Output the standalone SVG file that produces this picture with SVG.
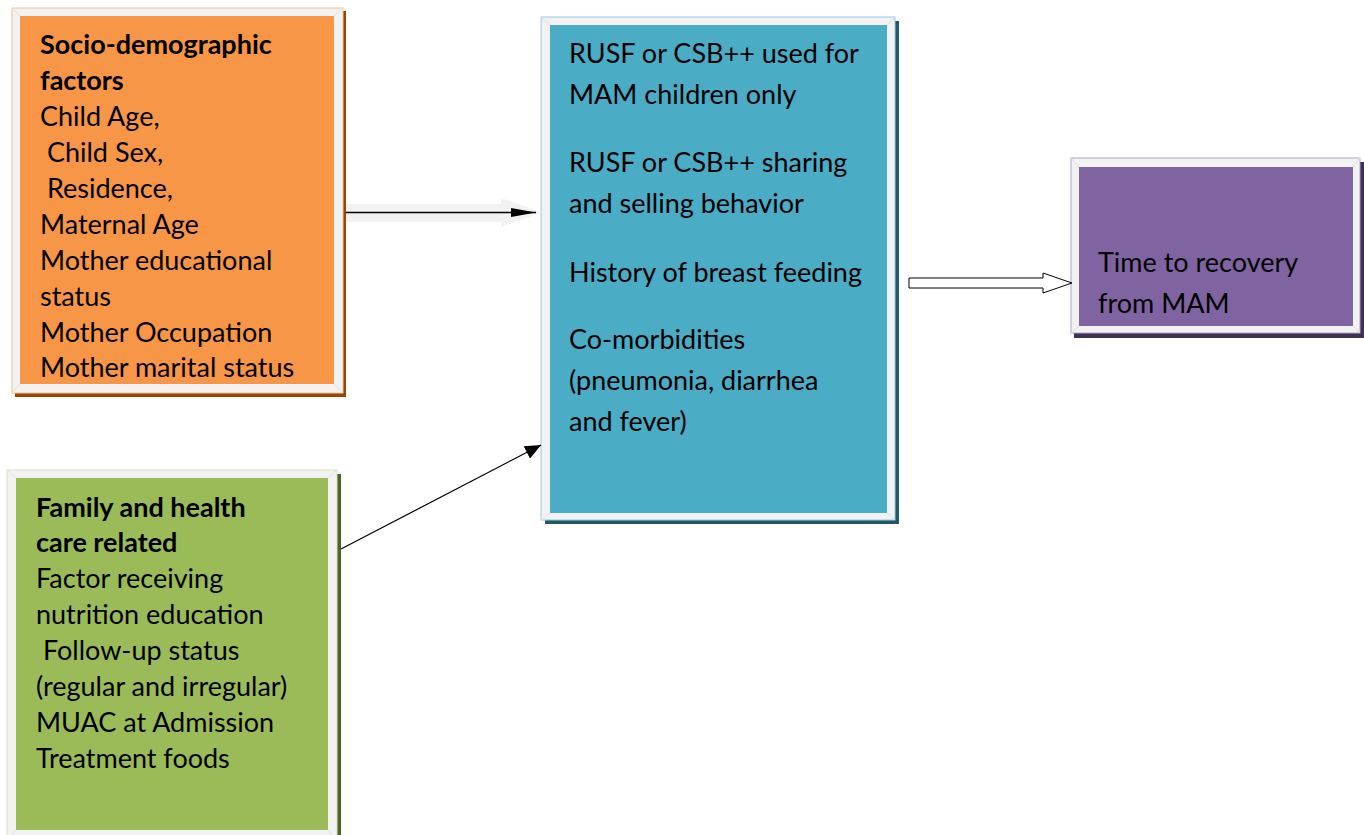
<svg xmlns="http://www.w3.org/2000/svg" width="1364" height="835" viewBox="0 0 1364 835">
<style>
text { font-family: Lato, Carlito, "Liberation Sans", sans-serif; font-size: 27px; fill: #000; }
.b { font-weight: bold; }
.frame { fill: #f2f2f2; }
.bev { stroke: #e0e0e0; stroke-width: 1; fill: none; }
</style>
<defs>
<marker id="ah1" viewBox="0 0 25 10" refX="25" refY="5" markerWidth="25" markerHeight="10" markerUnits="userSpaceOnUse" orient="auto">
<path d="M0,0.5 L25,5 L0,9.5 z" fill="#000"/>
</marker>
<marker id="ah2" viewBox="0 0 16 14" refX="16" refY="7" markerWidth="16" markerHeight="14" markerUnits="userSpaceOnUse" orient="auto">
<path d="M0,0 L16,7 L0,14 z" fill="#000"/>
</marker>
</defs>
<rect width="1364" height="835" fill="#fff"/>

<g id="node-socio">
<rect x="15" y="11" width="331" height="386" fill="#974806"/>
<rect class="frame" x="12" y="8" width="331" height="385" stroke="#fac090" stroke-width="1"/>
<path class="bev" d="M12,8 L20,16 M343,8 L334,16 M12,393 L20,384 M343,393 L334,384"/>
<rect x="20" y="16" width="314" height="368" fill="#f79646"/>
<text class="b" x="40" y="54">Socio-demographic</text>
<text class="b" x="40" y="90">factors</text>
<text x="40" y="126">Child Age,</text>
<text x="40" y="162" xml:space="preserve"> Child Sex,</text>
<text x="40" y="198" xml:space="preserve"> Residence,</text>
<text x="40" y="234">Maternal Age</text>
<text x="40" y="270">Mother educational</text>
<text x="40" y="306">status</text>
<text x="40" y="342">Mother Occupation</text>
<text x="40" y="377">Mother marital status</text>
</g>

<g id="node-factors">
<rect x="545" y="21" width="354" height="503" fill="#215968"/>
<rect class="frame" x="541" y="17" width="354" height="503" stroke="#93cddd" stroke-width="1"/>
<path class="bev" d="M541,17 L550,25 M895,17 L887,25 M541,520 L550,513 M895,520 L887,513"/>
<rect x="550" y="25" width="337" height="488" fill="#4bacc6"/>
<text x="569" y="63">RUSF or CSB++ used for</text>
<text x="569" y="104">MAM children only</text>
<text x="569" y="172">RUSF or CSB++ sharing</text>
<text x="569" y="213">and selling behavior</text>
<text x="569" y="282">History of breast feeding</text>
<text x="569" y="349">Co-morbidities</text>
<text x="569" y="390">(pneumonia, diarrhea</text>
<text x="569" y="431">and fever)</text>
</g>

<g id="node-outcome">
<rect x="1074" y="162" width="290" height="176" fill="#3f3151"/>
<rect class="frame" x="1071" y="158" width="289" height="175" stroke="#b2a1c7" stroke-width="1"/>
<path class="bev" d="M1071,158 L1079,167 M1360,158 L1353,167 M1071,333 L1079,326 M1360,333 L1353,326"/>
<rect x="1079" y="167" width="274" height="159" fill="#8064a2"/>
<text x="1098" y="272">Time to recovery</text>
<text x="1098" y="313">from MAM</text>
</g>

<g id="node-family">
<rect x="11" y="474" width="330" height="370" fill="#4f6228"/>
<rect class="frame" x="7" y="470" width="330" height="370" stroke="#d7e4bd" stroke-width="1"/>
<path class="bev" d="M7,470 L16,478 M337,470 L328,478 M7,840 L16,830 M337,840 L328,830"/>
<rect x="16" y="478" width="312" height="352" fill="#9bbb59"/>
<text class="b" x="36" y="517">Family and health</text>
<text class="b" x="36" y="552">care related</text>
<text x="36" y="588">Factor receiving</text>
<text x="36" y="624">nutrition education</text>
<text x="36" y="660" xml:space="preserve"> Follow-up status</text>
<text x="36" y="696">(regular and irregular)</text>
<text x="36" y="732">MUAC at Admission</text>
<text x="36" y="768">Treatment foods</text>
</g>

<g id="connectors">
<path d="M346,204 L501,204 L501,198 L542,212.5 L501,227 L501,222 L346,222 z" fill="#f2f2f2"/>
<line x1="346" y1="212.5" x2="536" y2="212.5" stroke="#000" stroke-width="1.5" marker-end="url(#ah1)"/>
<line x1="341" y1="549" x2="541" y2="445" stroke="#000" stroke-width="1.2" marker-end="url(#ah2)"/>
<path d="M909,278 L1043,278 L1043,273 L1072,283 L1043,293 L1043,288 L909,288 z" fill="#fff" stroke="#000" stroke-width="1"/>
</g>
</svg>
